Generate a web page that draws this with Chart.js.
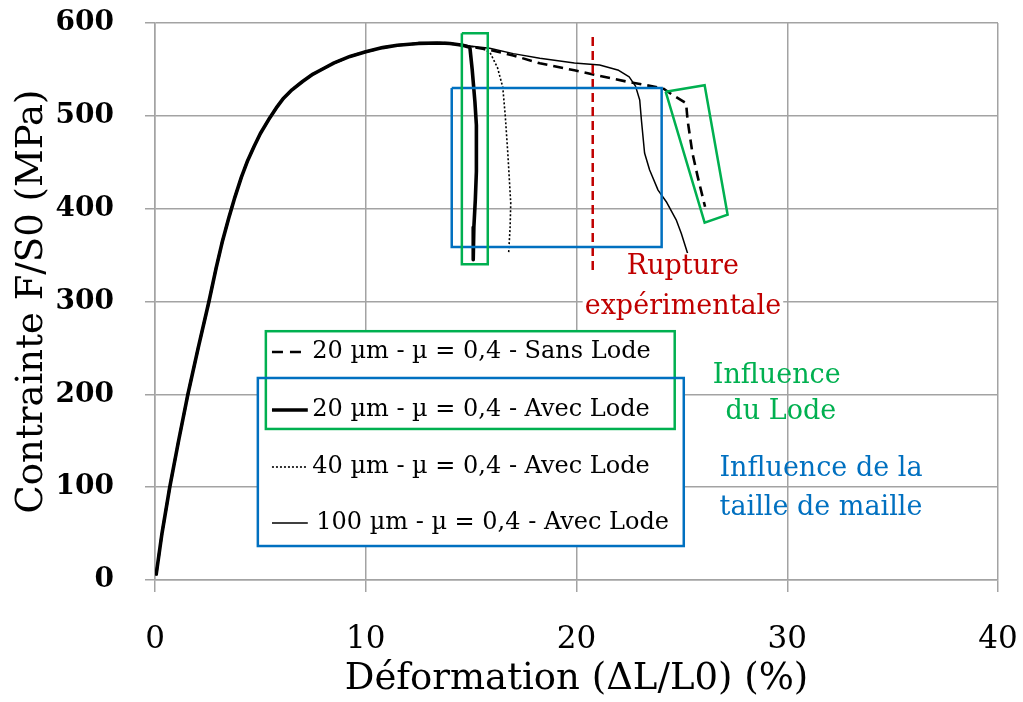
<!DOCTYPE html>
<html>
<head>
<meta charset="utf-8">
<script src="https://cdn.jsdelivr.net/npm/chart.js@4/dist/chart.umd.min.js"></script>
<style>
  body { margin: 0; background: #fff; }
  canvas { display: block; }
</style>
</head>
<body>
<canvas id="chart" width="1023" height="702"></canvas>
<script>
// common hardening part (strain %, stress MPa)
const hardeningStrain = [0.05, 0.33, 0.7, 1.12, 1.56, 2.05, 2.56, 2.9, 3.2, 3.5, 3.8, 4.1, 4.4, 4.7, 5.0, 5.45, 5.8, 6.1, 6.5, 7.0, 7.5, 8.0, 8.5, 9.25, 10.0, 10.8, 11.5, 12.5, 13.5, 14.0, 14.6];
const hardeningStress = [5, 50, 100, 150, 200, 250, 300, 336, 365, 390, 413, 434, 452, 467, 481, 498, 510, 519, 528, 537, 545, 551, 557, 564, 569, 573.5, 576, 578, 578.5, 578, 576];

// 20 µm - sans Lode (dashed)
const sansLodeStrain = [15.88, 17.0, 18.26, 19.9, 21.1, 22.4, 24.1, 24.56, 25.2, 25.27, 25.5, 25.75, 26.1];
const sansLodeStress = [571, 565, 556.6, 549, 543, 536.8, 529.7, 522.5, 513.5, 495.5, 460, 434.5, 402];

// 20 µm - avec Lode (thick solid)
const avec20Strain = [14.94, 15.05, 15.18, 15.25, 15.25, 15.2, 15.13, 15.1];
const avec20Stress = [574, 550, 515, 490, 440, 410, 380, 345];

// 40 µm - avec Lode (dotted)
const avec40Strain = [15.5, 15.9, 16.25, 16.5, 16.62, 16.74, 16.88, 16.85, 16.78];
const avec40Stress = [573, 568, 552, 531, 500, 460, 406, 380, 352];

// 100 µm - avec Lode (thin solid)
const avec100Strain = [15.88, 17.0, 18.26, 19.9, 21.1, 22.0, 22.5, 22.8, 23.0, 23.08, 23.23, 23.47, 23.87, 24.26, 24.73, 24.97, 25.27];
const avec100Stress = [572.8, 567, 562, 557, 554.8, 549, 542, 532, 517, 495.5, 460, 441.7, 420, 407.5, 388, 373.6, 352];

// annotation shapes in data units
const lodeBoxStrain = [14.56, 15.79, 15.79, 14.56, 14.56];
const lodeBoxStress = [589, 589, 340, 340, 589];
const meshBoxStrain = [14.08, 24.04, 24.04, 14.08, 14.08];
const meshBoxStress = [530, 530, 358.7, 358.7, 530];
const tiltBoxStrain = [24.23, 26.08, 27.17, 26.08, 24.23];
const tiltBoxStress = [526, 533, 393.5, 385, 526];
const ruptureStrain = [20.77, 20.77];
const ruptureStress = [585, 332];

const legendLabels = [
    '20 µm - µ = 0,4 - Sans Lode',
    '20 µm - µ = 0,4 - Avec Lode',
    '40 µm - µ = 0,4 - Avec Lode',
    '100 µm - µ = 0,4 - Avec Lode',
];

const GREEN = '#00b050';
const BLUE = '#0070c0';
const RED = '#c00000';
const GRID = '#a3a3a3';
const SERIF = '"DejaVu Serif", "Liberation Serif", serif';

const toPoints = (xs, ys) => xs.map((x, i) => ({ x, y: ys[i] }));
const withHardening = (xs, ys) => toPoints(hardeningStrain.concat(xs), hardeningStress.concat(ys));

const series = [
    { data: withHardening(sansLodeStrain, sansLodeStress), width: 2.6, dash: [10, 6] },
    { data: withHardening(avec20Strain, avec20Stress), width: 3.6, dash: [] },
    { data: withHardening(avec40Strain, avec40Stress), width: 1.6, dash: [2, 2] },
    { data: withHardening(avec100Strain, avec100Stress), width: 1.5, dash: [] },
];

const datasets = series.map((s, i) => ({
    label: legendLabels[i],
    data: s.data,
    borderColor: '#000',
    borderWidth: s.width,
    borderDash: s.dash,
    borderJoinStyle: 'round',
    order: 1,
}));

datasets.push(
    { data: toPoints(lodeBoxStrain, lodeBoxStress), borderColor: GREEN, borderWidth: 2.5, order: 0 },
    { data: toPoints(meshBoxStrain, meshBoxStress), borderColor: BLUE, borderWidth: 2.5, order: 0 },
    { data: toPoints(tiltBoxStrain, tiltBoxStress), borderColor: GREEN, borderWidth: 2.5, order: 0 },
    { data: toPoints(ruptureStrain, ruptureStress), borderColor: RED, borderWidth: 2.5, borderDash: [9, 5], order: 0 },
);

// legend and text notes, placed in data units
const legendPlugin = {
    id: 'notes',
    afterDatasetsDraw(chart) {
        const { ctx, scales: { x, y } } = chart;
        const rect = (x0, y0, x1, y1, color) => {
            const px = x.getPixelForValue(x0), py = y.getPixelForValue(y0);
            const w = x.getPixelForValue(x1) - px, h = y.getPixelForValue(y1) - py;
            ctx.fillStyle = '#fff';
            ctx.fillRect(px, py, w, h);
            return () => { ctx.strokeStyle = color; ctx.lineWidth = 2.5; ctx.setLineDash([]); ctx.strokeRect(px, py, w, h); };
        };
        ctx.save();
        const strokeBlue = rect(4.88, 217.6, 25.09, 36.6, BLUE);
        const strokeGreen = rect(5.26, 268, 24.66, 162.7, GREEN);
        strokeGreen();
        strokeBlue();

        const rowStress = [245.6, 183, 121.7, 61.4];
        const sx0 = x.getPixelForValue(5.55), sx1 = x.getPixelForValue(7.25);
        const tx = x.getPixelForValue(7.65);
        ctx.font = `24px ${SERIF}`;
        ctx.textBaseline = 'middle';
        ctx.textAlign = 'left';
        series.forEach((s, i) => {
            const py = Math.round(y.getPixelForValue(rowStress[i]));
            ctx.strokeStyle = '#000';
            ctx.lineWidth = s.width;
            ctx.setLineDash(i === 0 ? [11, 7] : s.dash);
            ctx.beginPath();
            ctx.moveTo(sx0, py);
            ctx.lineTo(i === 0 ? sx1 - 4 : sx1, py);
            ctx.stroke();
            ctx.fillStyle = '#000';
            ctx.fillText(legendLabels[i], tx - (i === 3 ? 0 : 4), py);
        });
        ctx.setLineDash([]);

        const note = (lines, strains, stresses, color, bg) => {
            ctx.font = `27px ${SERIF}`;
            ctx.textAlign = 'center';
            lines.forEach((t, i) => {
                const px = x.getPixelForValue(strains[i]), py = y.getPixelForValue(stresses[i]);
                if (bg) {
                    const w = ctx.measureText(t).width;
                    ctx.fillStyle = '#fff';
                    ctx.fillRect(px - w / 2 - 2, py - 14, w + 4, 28);
                }
                ctx.fillStyle = color;
                ctx.fillText(t, px, py);
            });
        };
        note(['Rupture', 'expérimentale'], [25.05, 25.05], [337, 294], RED, true);
        note(['Influence', 'du Lode'], [29.5, 29.7], [219.8, 181], GREEN, false);
        note(['Influence de la', 'taille de maille'], [31.6, 31.6], [119.6, 77.6], BLUE, false);
        ctx.restore();
    },
};

new Chart(document.getElementById('chart'), {
    type: 'line',
    data: { datasets },
    plugins: [legendPlugin],
    options: {
        responsive: false,
        animation: false,
        layout: { padding: { top: 23, right: 25, left: 0, bottom: 0 } },
        elements: { point: { radius: 0 }, line: { tension: 0, fill: false } },
        plugins: { legend: { display: false }, tooltip: { enabled: false } },
        scales: {
            x: {
                type: 'linear',
                min: 0,
                max: 40,
                ticks: { stepSize: 10, color: '#000', padding: 29, font: { family: SERIF, size: 31 } },
                grid: { color: GRID, lineWidth: 1.5, tickLength: 12 },
                border: { color: GRID, width: 1.5 },
                title: {
                    display: true,
                    text: 'Déformation (ΔL/L0) (%)',
                    color: '#000',
                    font: { family: SERIF, size: 37 },
                    padding: { top: 0, bottom: 0 },
                },
                afterFit: (scale) => {
                    scale.height = 122;
                    scale.paddingLeft = 0;
                    scale.paddingRight = 0;
                },
            },
            y: {
                type: 'linear',
                min: 0,
                max: 600,
                ticks: { stepSize: 100, color: '#000', padding: 31, font: { family: SERIF, size: 28, weight: 'bold' } },
                grid: { color: GRID, lineWidth: 1.5, tickLength: 10 },
                border: { color: GRID, width: 1.5 },
                title: {
                    display: true,
                    text: 'Contrainte F/S0 (MPa)',
                    color: '#000',
                    font: { family: SERIF, size: 37 },
                    padding: { top: 10, bottom: 0 },
                },
                afterFit: (scale) => {
                    scale.width = 155;
                    scale.paddingTop = 0;
                    scale.paddingBottom = 0;
                },
            },
        },
    },
});
</script>
</body>
</html>
